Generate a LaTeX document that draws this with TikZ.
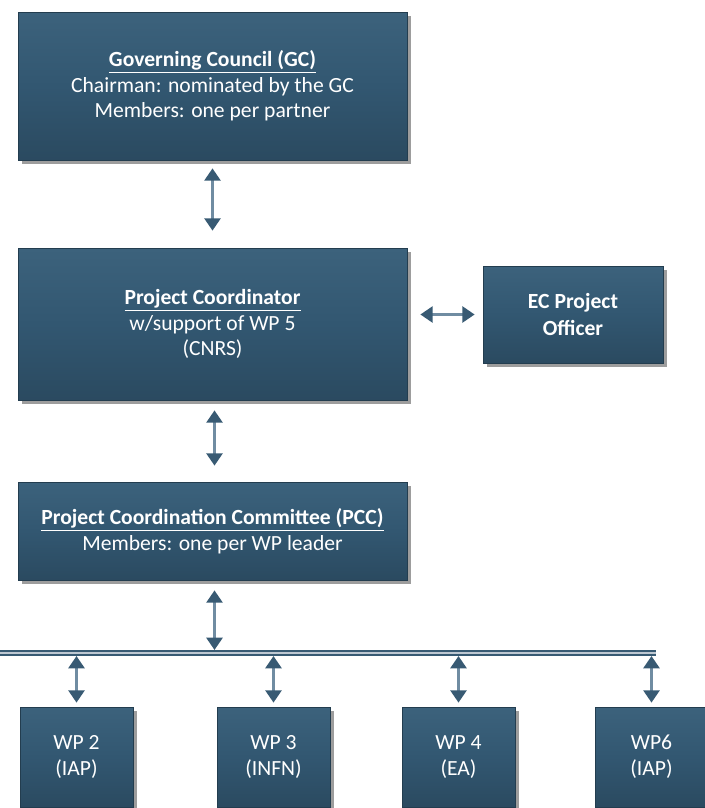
\documentclass[tikz,border=0pt]{standalone}
\usepackage{fontspec}
\setmainfont{Carlito}
\usepackage{xcolor}
\usepackage{tikz}
\usetikzlibrary{calc, shadows, arrows.meta, positioning}

\definecolor{boxblue}{RGB}{50,87,113}
\definecolor{boxtop}{RGB}{60,98,124}
\definecolor{linkblue}{RGB}{56,90,115}
\definecolor{linkshaft}{RGB}{112,140,162}
\definecolor{linklight}{RGB}{190,200,210}

\begin{document}
\begin{tikzpicture}[x=0.02cm, y=-0.02cm,
    box/.style={rectangle, draw=boxblue!70!black, line width=0.4pt,
        top color=boxtop, bottom color=boxblue!85!black, middle color=boxblue,
        text=white, align=center, inner sep=0pt,
        font=\fontsize{12.3}{14.6}\selectfont,
        drop shadow={shadow xshift=2.5pt, shadow yshift=-2.5pt, fill=black!55, opacity=0.7}},
    link/.style={line width=2.2pt, draw=linkshaft,
        {Triangle[width=9pt,length=7pt,color=linkblue]}-{Triangle[width=9pt,length=7pt,color=linkblue]}},
    bus/.style={line width=1.1pt, draw=linkblue, double=linklight, double distance=1.6pt}]

    \useasboundingbox (0,0) rectangle (705,808);

    % =================================================================
    % 1. CÁC KHỐI CHÍNH
    % =================================================================
    \node[box, minimum width=389*0.02cm, minimum height=148*0.02cm] (gc) at (212.5,86)
        {\textbf{\underline{Governing Council (GC)}}\\
         Chairman: nominated by the GC\\
         Members: one per partner};

    \node[box, minimum width=389*0.02cm, minimum height=152*0.02cm] (pc) at (212.5,324)
        {\textbf{\underline{Project Coordinator}}\\
         w/support of WP 5\\
         (CNRS)};

    \node[box, font=\fontsize{12.3}{15.5}\selectfont\bfseries,
        minimum width=180*0.02cm, minimum height=97*0.02cm] (ec) at (573,314.5)
        {EC Project\\Officer};

    \node[box, minimum width=389*0.02cm, minimum height=98*0.02cm] (pcc) at (212.5,531)
        {\textbf{\underline{Project Coordination Committee (PCC)}}\\
         Members: one per WP leader};

    % =================================================================
    % 2. CÁC GÓI CÔNG VIỆC (WP)
    % =================================================================
    \node[box, minimum width=113*0.02cm, minimum height=100*0.02cm] (wp2) at (76.5,757) {WP 2\\(IAP)};
    \node[box, minimum width=113*0.02cm, minimum height=100*0.02cm] (wp3) at (273.5,757) {WP 3\\(INFN)};
    \node[box, minimum width=113*0.02cm, minimum height=100*0.02cm] (wp4) at (458.5,757) {WP 4\\(EA)};
    \node[box, minimum width=113*0.02cm, minimum height=100*0.02cm] (wp6) at (651.5,757) {WP6\\(IAP)};

    % =================================================================
    % 3. CÁC MŨI TÊN LIÊN KẾT
    % =================================================================
    \draw[link, shorten <=8*0.02cm, shorten >=17*0.02cm] (gc) -- (pc);
    \draw[link, shorten <=13*0.02cm, shorten >=8*0.02cm] (pc.east |- ec.west) -- (ec.west);
    \draw[link, shorten <=10*0.02cm, shorten >=16*0.02cm] ([xshift=2*0.02cm]pc.south) -- ([xshift=2*0.02cm]pcc.north);

    % Thanh ngang phân phối
    \coordinate (busL) at (-5,653);
    \coordinate (busR) at (656,653);
    \draw[bus] (busL) -- (busR);
    \draw[link, shorten <=10*0.02cm, shorten >=3*0.02cm] ([xshift=2*0.02cm]pcc.south) -- ([xshift=2*0.02cm]pcc.south |- busL);

    \foreach \wp in {wp2, wp3, wp4, wp6} {
        \draw[link, shorten <=3*0.02cm, shorten >=4*0.02cm] (\wp.north |- busL) -- (\wp.north);
    }

\end{tikzpicture}
\end{document}
